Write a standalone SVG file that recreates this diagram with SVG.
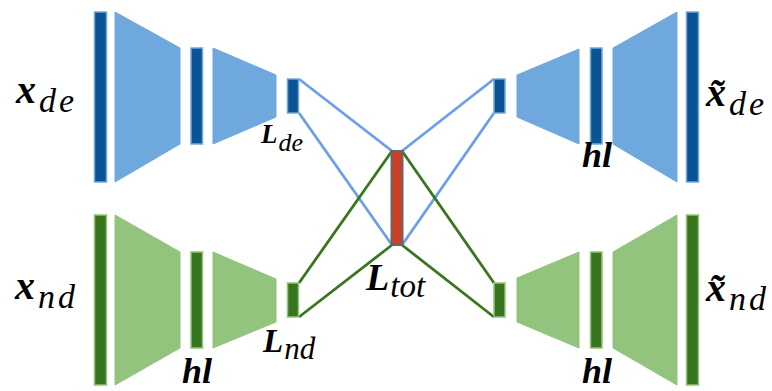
<svg xmlns="http://www.w3.org/2000/svg" width="772" height="391" viewBox="0 0 772 391">
<style>
.bb{fill:#0b5394;stroke:#6fa8dc;stroke-width:1.5}
.bt{fill:#6fa8dc;stroke:#6fa8dc;stroke-width:1}
.gb{fill:#38761d;stroke:#93c47d;stroke-width:1.5}
.gt{fill:#93c47d;stroke:#93c47d;stroke-width:1}
.lb{stroke:#6d9eeb;stroke-width:2.8;fill:none}
.lg{stroke:#38761d;stroke-width:2.8;fill:none}
text{font-family:"Liberation Serif","Noto Sans",serif}
.m{font-weight:bold;font-style:italic;fill:#000}
.s{font-style:italic;font-weight:normal}
</style>
<g id="connectors">
<line class="lb" x1="299" y1="79" x2="392" y2="151"/>
<line class="lb" x1="299" y1="113" x2="392" y2="245"/>
<line class="lb" x1="402" y1="151" x2="494" y2="79"/>
<line class="lb" x1="402" y1="245" x2="494" y2="113"/>
<line class="lg" x1="299" y1="283" x2="392" y2="151"/>
<line class="lg" x1="299" y1="317" x2="392" y2="245"/>
<line class="lg" x1="402" y1="151" x2="494" y2="283"/>
<line class="lg" x1="402" y1="245" x2="494" y2="317"/>
</g>
<g id="enc-de">
<rect class="bb" x="94.5" y="12" width="12" height="170"/>
<polygon class="bt" points="115,12 180,48 180,144 115,182"/>
<rect class="bb" x="191" y="48" width="11.5" height="96"/>
<polygon class="bt" points="213,48 276,75 276,117 213,144"/>
<rect class="bb" x="287.5" y="79" width="11" height="34"/>
</g>
<g id="dec-de">
<rect class="bb" x="494" y="79" width="11" height="34"/>
<polygon class="bt" points="517,75 579,49 579,144 517,117"/>
<rect class="bb" x="590.5" y="48" width="11.5" height="96"/>
<polygon class="bt" points="613,48 677,12 677,182 613,144"/>
<rect class="bb" x="686.5" y="12" width="12" height="170"/>
</g>
<g id="enc-nd">
<rect class="gb" x="94.5" y="215" width="12" height="170"/>
<polygon class="gt" points="115,215 180,252 180,348 115,385"/>
<rect class="gb" x="191" y="252" width="11.5" height="96"/>
<polygon class="gt" points="213,252 276,279 276,322 213,348"/>
<rect class="gb" x="287.5" y="283" width="11" height="34"/>
</g>
<g id="dec-nd">
<rect class="gb" x="494" y="283" width="11" height="34"/>
<polygon class="gt" points="517,278 579,252 579,348 517,322"/>
<rect class="gb" x="590.5" y="252" width="11.5" height="96"/>
<polygon class="gt" points="613,252 677,215 677,385 613,348"/>
<rect class="gb" x="686.5" y="215" width="12" height="170"/>
</g>
<g id="ltot">
<rect x="391.5" y="151" width="11" height="94" fill="#cc4125" stroke="#666666" stroke-width="2"/>
</g>
<g id="labels">
<text x="16" y="103" font-size="40" class="m">x<tspan class="s" font-size="34" dx="3" dy="9" letter-spacing="3">de</tspan></text>
<text x="15" y="299" font-size="40" class="m">x<tspan class="s" font-size="34" dx="3" dy="9" letter-spacing="3">nd</tspan></text>
<text x="261" y="143" font-size="27" class="m">L<tspan class="s" font-size="26" dx="1" dy="8">de</tspan></text>
<text x="263" y="352" font-size="33" class="m">L<tspan class="s" font-size="31" dx="1" dy="7">nd</tspan></text>
<text x="366" y="290" font-size="38" class="m">L<tspan class="s" font-size="33" dx="1" dy="7">tot</tspan></text>
<text x="182" y="383" font-size="36" class="m">hl</text>
<text x="582" y="167" font-size="36" class="m">hl</text>
<text x="582" y="383" font-size="36" class="m">hl</text>
<text x="706" y="106" font-size="40" class="m">x̃<tspan class="s" font-size="34" dx="3" dy="9" letter-spacing="3">de</tspan></text>
<text x="706" y="301" font-size="40" class="m">x̃<tspan class="s" font-size="34" dx="3" dy="9" letter-spacing="3">nd</tspan></text>
</g>
</svg>
